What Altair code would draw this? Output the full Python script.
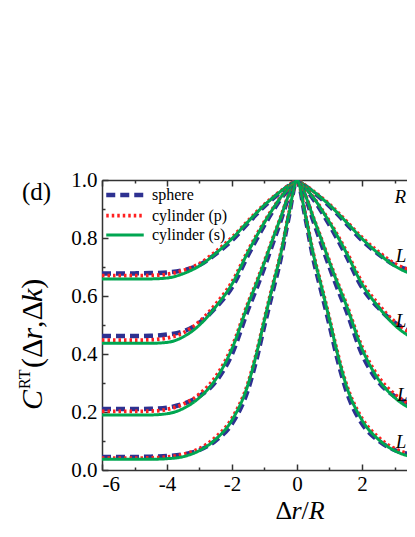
import altair as alt
import pandas as pd

# ---- data ----
x_vals = [-6, -5, -4.5, -4, -3.5, -3, -2.5, -2, -1.5, -1.25, -1, -0.75, -0.5, -0.25, 0,
          0.25, 0.5, 0.75, 1, 1.25, 1.5, 2, 2.5, 3, 3.5, 4, 4.5, 5, 6]

models = ["sphere", "cylinder (p)", "cylinder (s)"]

# family 1 (top plateau)
sph_1 = [0.678, 0.678, 0.679, 0.681, 0.689, 0.707, 0.745, 0.792, 0.852, 0.882, 0.910, 0.935, 0.958, 0.980, 1.0,
         0.980, 0.958, 0.935, 0.910, 0.882, 0.852, 0.792, 0.745, 0.707, 0.689, 0.681, 0.679, 0.678, 0.678]
cyp_1 = [0.670, 0.670, 0.671, 0.675, 0.688, 0.712, 0.753, 0.802, 0.860, 0.889, 0.916, 0.940, 0.962, 0.982, 1.0,
         0.982, 0.962, 0.940, 0.916, 0.889, 0.860, 0.802, 0.753, 0.712, 0.688, 0.675, 0.671, 0.670, 0.670]
cys_1 = [0.659, 0.659, 0.659, 0.662, 0.677, 0.704, 0.747, 0.798, 0.857, 0.886, 0.914, 0.938, 0.961, 0.981, 1.0,
         0.981, 0.961, 0.938, 0.914, 0.886, 0.857, 0.798, 0.747, 0.704, 0.677, 0.662, 0.659, 0.659, 0.659]
# family 2
sph_2 = [0.462, 0.462, 0.463, 0.467, 0.478, 0.508, 0.560, 0.630, 0.742, 0.795, 0.845, 0.892, 0.935, 0.970, 1.0,
         0.970, 0.935, 0.892, 0.845, 0.795, 0.742, 0.630, 0.560, 0.508, 0.478, 0.467, 0.463, 0.462, 0.462]
cyp_2 = [0.448, 0.448, 0.449, 0.455, 0.473, 0.512, 0.572, 0.648, 0.758, 0.809, 0.857, 0.901, 0.941, 0.973, 1.0,
         0.973, 0.941, 0.901, 0.857, 0.809, 0.758, 0.648, 0.572, 0.512, 0.473, 0.455, 0.449, 0.448, 0.448]
cys_2 = [0.437, 0.437, 0.437, 0.440, 0.459, 0.500, 0.563, 0.641, 0.753, 0.805, 0.854, 0.899, 0.940, 0.972, 1.0,
         0.972, 0.940, 0.899, 0.854, 0.805, 0.753, 0.641, 0.563, 0.500, 0.459, 0.440, 0.437, 0.437, 0.437]
# family 3
sph_3 = [0.210, 0.210, 0.211, 0.215, 0.228, 0.255, 0.305, 0.400, 0.555, 0.625, 0.700, 0.780, 0.860, 0.945, 1.0,
         0.945, 0.860, 0.780, 0.700, 0.625, 0.555, 0.400, 0.305, 0.255, 0.228, 0.215, 0.211, 0.210, 0.210]
cyp_3 = [0.202, 0.202, 0.203, 0.209, 0.227, 0.262, 0.322, 0.425, 0.578, 0.647, 0.720, 0.797, 0.872, 0.950, 1.0,
         0.950, 0.872, 0.797, 0.720, 0.647, 0.578, 0.425, 0.322, 0.262, 0.227, 0.209, 0.203, 0.202, 0.202]
cys_3 = [0.190, 0.190, 0.190, 0.194, 0.212, 0.250, 0.313, 0.418, 0.573, 0.643, 0.717, 0.795, 0.871, 0.949, 1.0,
         0.949, 0.871, 0.795, 0.717, 0.643, 0.573, 0.418, 0.313, 0.250, 0.212, 0.194, 0.190, 0.190, 0.190]
# family 4 (bottom plateau)
sph_4 = [0.045, 0.045, 0.046, 0.048, 0.054, 0.069, 0.102, 0.160, 0.280, 0.380, 0.500, 0.615, 0.730, 0.875, 1.0,
         0.875, 0.730, 0.615, 0.500, 0.380, 0.280, 0.160, 0.102, 0.069, 0.054, 0.048, 0.046, 0.045, 0.045]
cyp_4 = [0.041, 0.041, 0.042, 0.045, 0.054, 0.074, 0.113, 0.178, 0.302, 0.403, 0.522, 0.637, 0.748, 0.885, 1.0,
         0.885, 0.748, 0.637, 0.522, 0.403, 0.302, 0.178, 0.113, 0.074, 0.054, 0.045, 0.042, 0.041, 0.041]
cys_4 = [0.037, 0.037, 0.037, 0.039, 0.046, 0.067, 0.106, 0.172, 0.297, 0.399, 0.518, 0.633, 0.745, 0.883, 1.0,
         0.883, 0.745, 0.633, 0.518, 0.399, 0.297, 0.172, 0.106, 0.067, 0.046, 0.039, 0.037, 0.037, 0.037]

families = {
    "1": [sph_1, cyp_1, cys_1],
    "2": [sph_2, cyp_2, cys_2],
    "3": [sph_3, cyp_3, cys_3],
    "4": [sph_4, cyp_4, cys_4],
}

x_label_values = [-6, -4, -2, 0, 2]
x_tick_values = [-6, -5, -4, -3, -2, -1, 0, 1, 2, 3]
y_label_values = [0.0, 0.2, 0.4, 0.6, 0.8, 1.0]
y_tick_values = [0.0, 0.1, 0.2, 0.3, 0.4, 0.5, 0.6, 0.7, 0.8, 0.9, 1.0]

ann_text = ["R", "L", "L", "L", "L"]
ann_x = [3.00, 3.04, 3.04, 3.08, 3.04]
ann_y = [0.940, 0.738, 0.514, 0.259, 0.095]

# ---- build table ----
rows = []
for fam, series in families.items():
    for model, ys in zip(models, series):
        for xv, yv in zip(x_vals, ys):
            rows.append({"x": xv, "y": yv, "model": model, "family": fam})
df = pd.DataFrame(rows)

W, H = 305, 290
FONT = "Liberation Serif, Times New Roman, serif"
AX = "#333333"
navy, red, green = "#2e3191", "#ff2020", "#00a651"

xscale = alt.Scale(domain=[-6, -6 + W / 32.5], nice=False, zero=False)
yscale = alt.Scale(domain=[0, 1], nice=False, zero=False)

leg = alt.Legend(
    title=None, orient="none", legendX=13, legendY=5, padding=0,
    symbolType="M-2.5,0H2.5", symbolSize=225, symbolStrokeWidth=3.5,
    labelFont=FONT, labelFontSize=16, labelColor="black", labelOffset=17,
    rowPadding=2,
)

lines = alt.Chart(df).mark_line(clip=True, interpolate="monotone", strokeCap="butt").encode(
    x=alt.X("x:Q", scale=xscale, axis=alt.Axis(
        values=x_label_values, ticks=False, tickSize=0, grid=False,
        domainColor=AX, domainWidth=1.5,
        labelExpr="(datum.value < 0 ? '-' : '') + abs(datum.value)",
        labelFont=FONT, labelFontSize=21, labelColor="black", labelPadding=3,
        title=None)),
    y=alt.Y("y:Q", scale=yscale, axis=alt.Axis(
        values=y_label_values, format=".1f", ticks=False, tickSize=0, grid=False,
        domainColor=AX, domainWidth=1.5,
        labelFont=FONT, labelFontSize=21, labelColor="black", labelPadding=5,
        title=None)),
    color=alt.Color("model:N", scale=alt.Scale(domain=models, range=[navy, red, green]), legend=leg),
    strokeDash=alt.StrokeDash("model:N", scale=alt.Scale(domain=models, range=[[9, 5], [2.5, 3], [1, 0]]), legend=leg),
    strokeWidth=alt.StrokeWidth("model:N", scale=alt.Scale(domain=models, range=[4.5, 3, 2]), legend=None),
    detail="family:N",
)

tick_x = {"condition": {"test": "datum.value % 2 === 0", "value": 6}, "value": 3}
tick_y = {"condition": {"test": "round(datum.value * 10) % 2 === 0", "value": 6}, "value": 3}

# inward ticks on bottom and left edges
ticks_bl = alt.Chart(df).mark_line(strokeOpacity=0).encode(
    x=alt.X("x:Q", scale=xscale, axis=alt.Axis(
        orient="top", offset=-H, values=x_tick_values, labels=False, domain=False,
        tickSize=tick_x, tickColor=AX, tickWidth=1.5, grid=False, title=None)),
    y=alt.Y("y:Q", scale=yscale, axis=alt.Axis(
        orient="right", offset=-W, values=y_tick_values, labels=False, domain=False,
        tickSize=tick_y, tickColor=AX, tickWidth=1.5, grid=False, title=None)),
    detail="family:N",
)

# top border with inward ticks
ticks_top = alt.Chart(df).mark_line(strokeOpacity=0).encode(
    x=alt.X("x:Q", scale=xscale, axis=alt.Axis(
        orient="bottom", offset=-H, values=x_tick_values, labels=False, domain=True,
        domainColor=AX, domainWidth=1.5,
        tickSize=tick_x, tickColor=AX, tickWidth=1.5, grid=False, title=None)),
    y=alt.Y("y:Q", scale=yscale, axis=None),
    detail="family:N",
)

ann = alt.Chart(pd.DataFrame({"x": ann_x, "y": ann_y, "t": ann_text})).mark_text(
    align="left", baseline="middle", font=FONT, fontSize=19, fontStyle="italic",
    color="black",
).encode(
    x=alt.X("x:Q", scale=xscale, axis=None),
    y=alt.Y("y:Q", scale=yscale, axis=None),
    text="t:N",
)


def label_part(text, px, py, size, style="normal", angle=0):
    return alt.Chart(pd.DataFrame({"t": [text]})).mark_text(
        align="left", baseline="alphabetic", font=FONT, fontSize=size,
        fontStyle=style, color="black", angle=angle,
    ).encode(x=alt.value(px), y=alt.value(py), text="t:N")


panel = label_part("(d)", -80, 20, 25)

# y title  C^RT(Δr,Δk), read bottom-to-top
yt = [
    label_part("C", -60, 230, 30, "italic", 270),
    label_part("RT", -72, 209, 16, "normal", 270),
    label_part("(Δ", -60, 188, 30, "normal", 270),
    label_part("r", -60, 159.6, 30, "italic", 270),
    label_part(",Δ", -60, 147.9, 30, "normal", 270),
    label_part("k", -60, 122, 30, "italic", 270),
    label_part(")", -60, 108.7, 30, "normal", 270),
]

# x title  Δr/R
xt = [
    label_part("Δ", 173.5, 339, 26, "normal"),
    label_part("r", 189.4, 339, 26, "italic"),
    label_part("/", 199.5, 339, 26, "normal"),
    label_part("R", 206.7, 339, 26, "italic"),
]

chart = alt.layer(lines, ticks_bl, ticks_top, ann, panel, *yt, *xt).resolve_axis(
    x="independent", y="independent"
).properties(
    width=W, height=H,
    autosize=alt.AutoSizeParams(type="none"),
    padding={"left": 94, "top": 172, "right": 0, "bottom": 55},
    background="white",
).configure_view(stroke=None)

chart.save("out.html", embed_options={"renderer": "svg", "actions": False})
